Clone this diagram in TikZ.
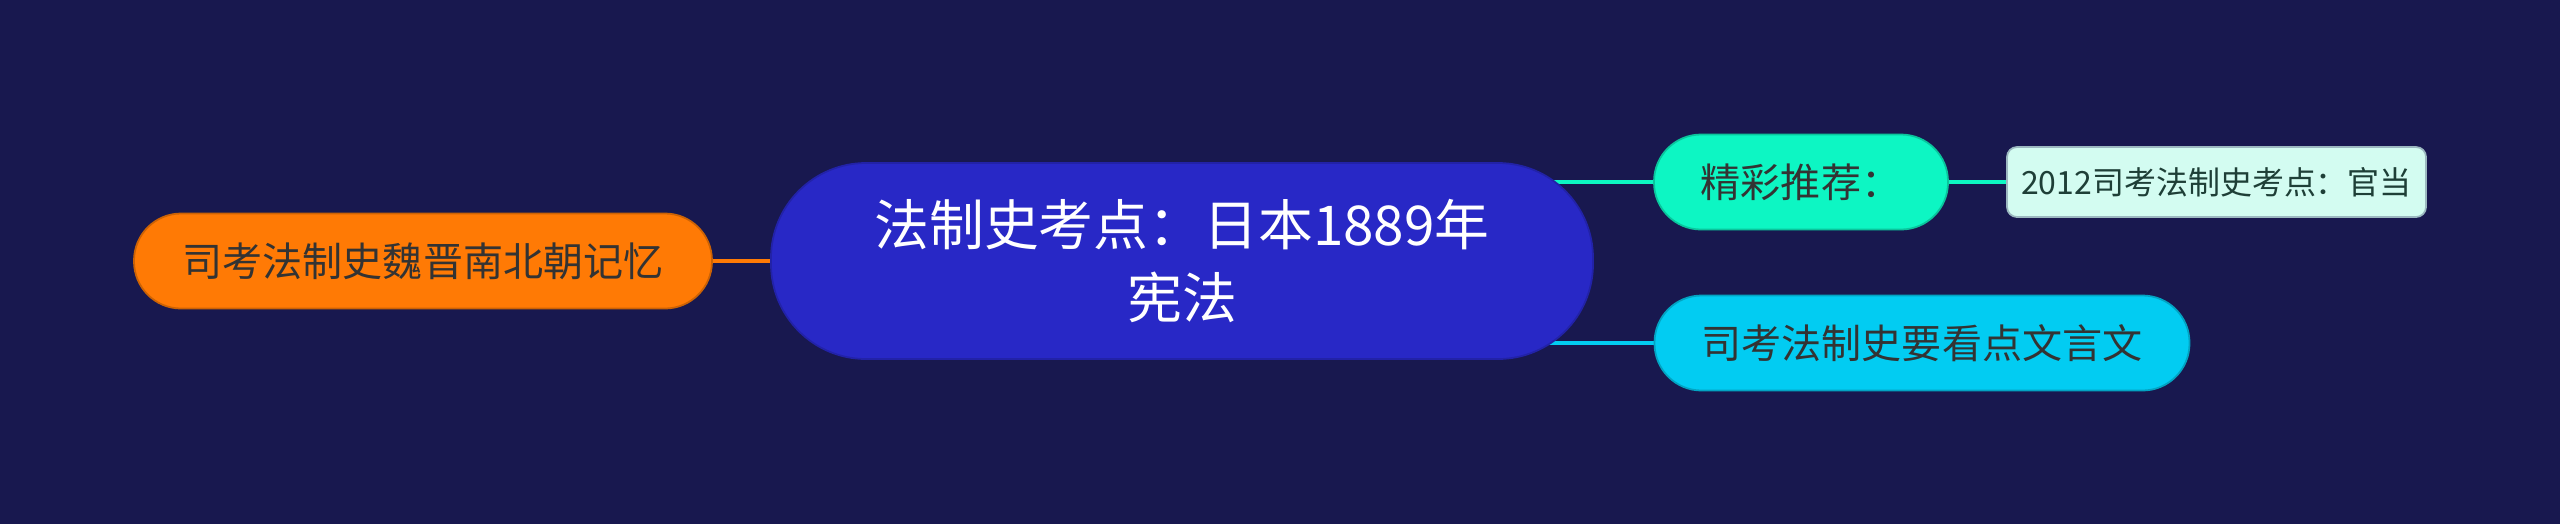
\documentclass[tikz,border=0pt]{standalone}
\usepackage{fontspec}
\newfontfamily\cjk{Noto Sans CJK SC}
\usepackage{tikz}
\definecolor{bgnavy}{HTML}{18184F}
\definecolor{rootblue}{HTML}{2828C6}
\definecolor{wingorange}{HTML}{FF7A05}
\definecolor{wingmint}{HTML}{0DF6C3}
\definecolor{wingcyan}{HTML}{02CCF2}
\definecolor{leafmint}{HTML}{D3FCF1}
\definecolor{ink}{HTML}{333333}
\definecolor{inkgreen}{HTML}{1E3F37}
\pgfdeclarelayer{back}
\pgfsetlayers{back,main}
\tikzset{
  root/.style={fill=rootblue, draw=rootblue!85!black, line width=0.5pt, rounded corners=0.95cm,
    minimum width=8.22cm, minimum height=1.96cm, inner sep=0pt, align=center, text=white,
    font=\cjk\fontsize{15.6}{21}\selectfont},
  wing/.style={fill=#1, draw=#1!80!black, line width=0.5pt, rounded corners=0.47cm,
    minimum height=0.95cm, inner sep=0pt, text=ink, font=\cjk\fontsize{11.4}{14}\selectfont},
  leaf/.style={fill=leafmint, draw=leafmint!70!bgnavy, line width=0.5pt, rounded corners=0.1cm,
    minimum width=4.19cm, minimum height=0.70cm, inner sep=0pt, text=inkgreen,
    font=\cjk\fontsize{9.1}{12}\selectfont},
  link/.style={draw=#1, line width=1.4pt, line cap=round},
}
\begin{document}
\begin{tikzpicture}
  \useasboundingbox (0,0) rectangle (25.6,5.24);
  \begin{pgfonlayer}{back}
    \fill[bgnavy] (0,0) rectangle (25.6,5.24);
  \end{pgfonlayer}
  \node[root] (law) at (11.82,2.63) {法制史考点：日本1889年\\宪法};
  \node[wing=wingorange, minimum width=5.78cm] (wei) at (4.23,2.63) {司考法制史魏晋南北朝记忆};
  \node[wing=wingmint, minimum width=2.94cm] (tui) at (18.01,3.42) {精彩推荐：};
  \node[wing=wingcyan, minimum width=5.35cm] (wen) at (19.22,1.81) {司考法制史要看点文言文};
  \node[leaf] (guan) at (22.165,3.42) {2012司考法制史考点：官当};
  % connectors under the nodes
  \begin{pgfonlayer}{back}
    \draw[link=wingorange] (law.center) -- (wei.east);
    \draw[link=wingmint] (law.center |- tui.west) -- (tui.west);
    \draw[link=wingcyan] (law.center |- wen.west) -- (wen.west);
    \draw[link=wingmint] (tui.east) -- (guan.west);
  \end{pgfonlayer}
\end{tikzpicture}
\end{document}
